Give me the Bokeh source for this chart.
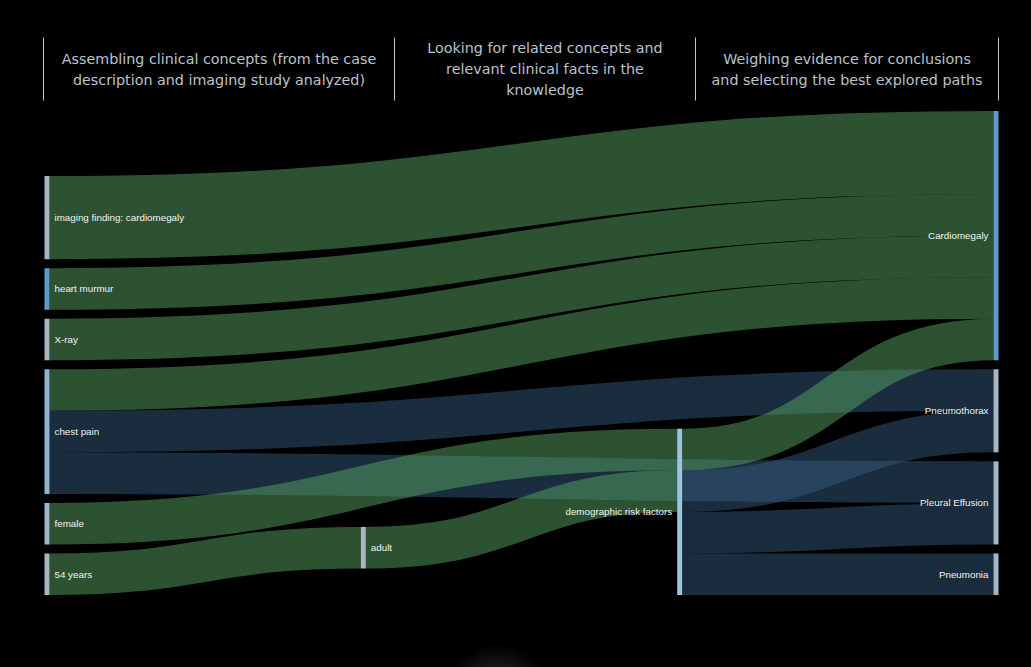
import numpy as np
from bokeh.plotting import figure
from bokeh.models import Range1d, ColumnDataSource, GlobalInlineStyleSheet
from bokeh.embed import file_html
from bokeh.resources import INLINE
from bokeh.core.properties import value

# ---------------- data ----------------
node_names = ["imaging finding: cardiomegaly", "heart murmur", "X-ray", "chest pain",
              "female", "54 years", "adult", "demographic risk factors",
              "Cardiomegaly", "Pneumothorax", "Pleural Effusion", "Pneumonia"]
node_stage = [0, 0, 0, 0, 0, 0, 1, 2, 3, 3, 3, 3]
node_colors = ["#a6b5c2", "#5b9cc8", "#a6b5c2", "#8db4d0", "#9fb7c9", "#a6b5c2",
               "#a6b5c2", "#9cc4dc", "#5b9cc8", "#a6b5c2", "#a6b5c2", "#a6b5c2"]

link_source = ["imaging finding: cardiomegaly", "heart murmur", "X-ray", "chest pain",
               "chest pain", "chest pain", "female", "54 years", "adult",
               "demographic risk factors", "demographic risk factors",
               "demographic risk factors", "demographic risk factors"]
link_target = ["Cardiomegaly", "Cardiomegaly", "Cardiomegaly", "Cardiomegaly",
               "Pneumothorax", "Pleural Effusion", "demographic risk factors", "adult",
               "demographic risk factors", "Cardiomegaly", "Pneumothorax",
               "Pleural Effusion", "Pneumonia"]
link_value = [2, 1, 1, 1, 1, 1, 1, 1, 1, 1, 1, 1, 1]

stage_titles = [
    ["Assembling clinical concepts (from the case", "description and imaging study analyzed)"],
    ["Looking for related concepts and", "relevant clinical facts in the", "knowledge"],
    ["Weighing evidence for conclusions", "and selecting the best explored paths"],
]

# ---------------- layout parameters ----------------
W, H = 1031, 667
left_x, right_x = 44.0, 993.0
node_w = 5.0
unit = 41.55
pad = 9.0
bottom = 594.5
stage_bottom_gap = {1: 26.5}
green_link = "#58a464"
blue_link = "#34597e"
header_bounds = [43, 394, 695, 998]

n = len(node_names)
idx = {nm: i for i, nm in enumerate(node_names)}
in_v = np.zeros(n)
out_v = np.zeros(n)
for s, t, v in zip(link_source, link_target, link_value):
    out_v[idx[s]] += v
    in_v[idx[t]] += v
node_val = np.maximum(in_v, out_v)
node_h = node_val * unit

stage_x = [left_x + k * (right_x - left_x) / 3 for k in range(4)]
node_x = np.array([stage_x[s] for s in node_stage])
node_top = np.zeros(n)
for st in range(4):
    members = [i for i in range(n) if node_stage[i] == st]
    total = sum(node_h[i] for i in members) + pad * (len(members) - 1)
    y = bottom - stage_bottom_gap.get(st, 0) - total
    for i in members:
        node_top[i] = y
        y += node_h[i] + pad

# link offsets
src_i = [idx[s] for s in link_source]
tgt_i = [idx[t] for t in link_target]
L = len(link_value)
y0 = np.zeros(L)
y1 = np.zeros(L)
widths = np.array(link_value) * unit
for i in range(n):
    outs = sorted([k for k in range(L) if src_i[k] == i], key=lambda k: (node_top[tgt_i[k]], k))
    off = node_top[i]
    for k in outs:
        y0[k] = off + widths[k] / 2
        off += widths[k]
    ins = sorted([k for k in range(L) if tgt_i[k] == i], key=lambda k: (node_top[src_i[k]], k))
    off = node_top[i]
    for k in ins:
        y1[k] = off + widths[k] / 2
        off += widths[k]

x0 = node_x[src_i] + node_w
x1 = node_x[tgt_i]
xm = (x0 + x1) / 2
link_col = [blue_link if (node_stage[tgt_i[k]] == 3 and link_target[k] != "Cardiomegaly") else green_link
            for k in range(L)]

# ---------------- figure ----------------
p = figure(width=W, height=H, output_backend="svg", toolbar_location=None,
           x_range=Range1d(0, W), y_range=Range1d(H, 0),
           min_border=0, background_fill_color="black", border_fill_color="black",
           outline_line_color=None)
p.axis.visible = False
p.grid.visible = False
p.stylesheets = [GlobalInlineStyleSheet(css="html, body { background-color: #000000; overflow: hidden; }")]

# bottom glow
for r in np.arange(55, 1, -2):
    p.circle(x=[497], y=[700], radius=r, fill_color="#ffffff", fill_alpha=0.011, line_color=None)

links = ColumnDataSource(dict(x0=x0, y0=y0, x1=x1, y1=y1, cx0=xm, cy0=y0, cx1=xm, cy1=y1,
                              w=widths, c=link_col))
p.bezier(x0="x0", y0="y0", x1="x1", y1="y1", cx0="cx0", cy0="cy0", cx1="cx1", cy1="cy1",
         line_width="w", line_color="c", line_alpha=0.5, line_cap="butt", source=links)

nodes = ColumnDataSource(dict(left=node_x, right=node_x + node_w, top=node_top,
                              bottom=node_top + node_h, c=node_colors))
p.quad(left="left", right="right", top="top", bottom="bottom", fill_color="c",
       line_color=None, source=nodes)

lab_x = [node_x[i] + node_w + 5 if node_stage[i] < 2 else node_x[i] - 5 for i in range(n)]
lab_al = ["left" if node_stage[i] < 2 else "right" for i in range(n)]
lab_y = node_top + node_h / 2
labels = ColumnDataSource(dict(x=lab_x, y=lab_y, t=node_names, a=lab_al))
p.text(x="x", y="y", text="t", text_align="a", text_baseline="middle",
       text_font=value("Liberation Sans"), text_font_size="9.8px", text_color="#f2f2f2",
       source=labels)

# headers
p.segment(x0=header_bounds, y0=[37] * 4, x1=header_bounds, y1=[100] * 4,
          line_color="#c8c8c8", line_width=1)
hx, hy, ht = [], [], []
for k, lines in enumerate(stage_titles):
    cx = (header_bounds[k] + header_bounds[k + 1]) / 2
    nl = len(lines)
    for j, ln in enumerate(lines):
        hx.append(cx)
        hy.append(68.5 + (j - (nl - 1) / 2) * 21)
        ht.append(ln)
p.text(x=hx, y=hy, text=ht, text_align="center", text_baseline="middle",
       text_font=value("DejaVu Sans"), text_font_size="14.3px", text_color="#b9c3cc")

open("out.html", "w").write(file_html(p, INLINE))
